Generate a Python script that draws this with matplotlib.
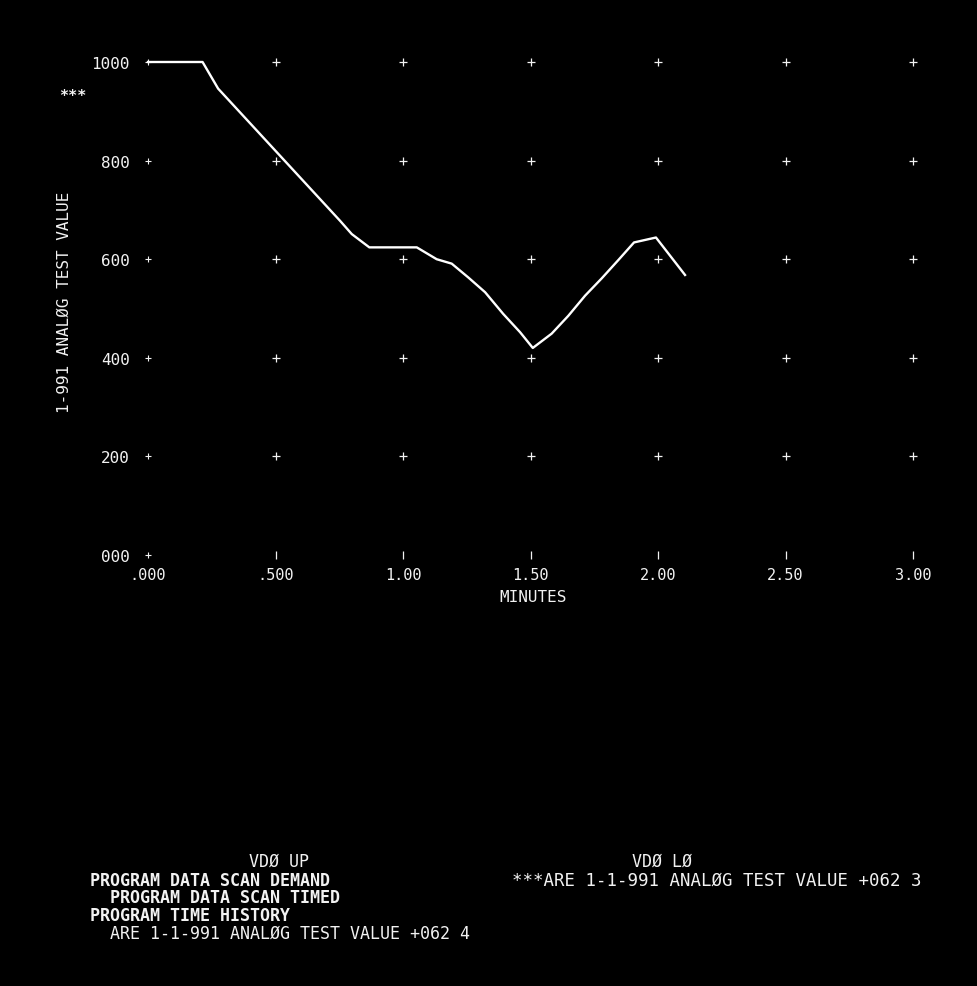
import matplotlib
matplotlib.use("Agg")
import matplotlib.pyplot as plt

# Analog test value history (minutes vs value)
minutes = [0.000, 0.214, 0.275, 0.753, 0.799, 0.868, 1.054, 1.132, 1.191, 1.256,
           1.322, 1.393, 1.459, 1.509, 1.583, 1.648, 1.714, 1.779, 1.844, 1.906,
           1.992, 2.106]
values = [1000, 1000, 946, 678, 651, 624, 624, 600, 591, 563,
          533, 489, 452, 420, 449, 485, 526, 561, 598, 634,
          644, 568]

x_ticks = [0.0, 0.5, 1.0, 1.5, 2.0, 2.5, 3.0]
x_tick_labels = [".000", ".500", "1.00", "1.50", "2.00", "2.50", "3.00"]
y_ticks = [0, 200, 400, 600, 800, 1000]
y_tick_labels = ["000", "200", "400", "600", "800", "1000"]

x_title = "MINUTES"
y_title = "1-991 ANALØG TEST VALUE"

status_left_header = "VDØ UP"
status_left_lines = [
    ("PROGRAM DATA SCAN DEMAND", "bold"),
    ("  PROGRAM DATA SCAN TIMED", "bold"),
    ("PROGRAM TIME HISTORY", "bold"),
    ("  ARE 1-1-991 ANALØG TEST VALUE +062 4", "normal"),
]
status_right_header = "VDØ LØ"
status_right_line = "***ARE 1-1-991 ANALØG TEST VALUE +062 3"

W, H = 977, 987
FONT = ["DejaVu Sans Mono"]
FG = "#f2f2f2"

fig = plt.figure(figsize=(W / 100, H / 100), dpi=100, facecolor="black")


def fx(px):
    return px / W


def fy(py):
    return 1 - py / H


# plotting area: x 0..3 spans px 148..913, y 0..1000 spans px 556..63
ax = fig.add_axes([fx(148), fy(556), fx(913) - fx(148), fy(63) - fy(556)])
ax.set_facecolor("black")
ax.set_xlim(0, 3)
ax.set_ylim(0, 1000)
for s in ax.spines.values():
    s.set_visible(False)

# grid crosses at tick intersections
for xv in x_ticks[1:]:
    for yv in y_ticks[1:]:
        ax.plot(xv, yv, marker="+", ms=6, mew=0.9, color=FG, clip_on=False)
# small marks along the left and bottom edges
for yv in y_ticks:
    ax.plot(0, yv, marker="+", ms=4, mew=0.8, color=FG, clip_on=False)
for xv in x_ticks[1:]:
    ax.plot(xv, 0, marker="|", ms=6, mew=0.9, color=FG, clip_on=False)

# data trace
ax.plot(minutes, values, color="white", lw=1.7, solid_joinstyle="round",
        clip_on=False)

ax.set_xticks(x_ticks)
ax.set_xticklabels(x_tick_labels, family=FONT, fontsize=11, color=FG)
ax.set_yticks(y_ticks)
ax.set_yticklabels(y_tick_labels, family=FONT, fontsize=11.5, color=FG)
ax.tick_params(axis="x", length=0, pad=9)
ax.tick_params(axis="y", length=0, pad=13)

fig.text(fx(533), fy(598), x_title, family=FONT, fontsize=11.5, color=FG,
         ha="center", va="center")
fig.text(fx(64), fy(302), y_title, family=FONT, fontsize=11.5, color=FG,
         ha="center", va="center", rotation=90)
fig.text(fx(59), fy(97), "***", family=FONT, fontsize=11, fontweight="bold",
         color=FG, ha="left", va="center")

# status block
fig.text(fx(279), fy(862), status_left_header, family=FONT, fontsize=12,
         color=FG, ha="center", va="center")
for i, (line, weight) in enumerate(status_left_lines):
    fig.text(fx(90), fy(881 + 17.5 * i), line, family=FONT, fontsize=12,
             fontweight=weight, color=FG, ha="left", va="center")
fig.text(fx(662), fy(862), status_right_header, family=FONT, fontsize=12,
         color=FG, ha="center", va="center")
fig.text(fx(512), fy(881), status_right_line, family=FONT, fontsize=12.5,
         color=FG, ha="left", va="center")

fig.savefig("out.png", dpi=100, facecolor="black")
